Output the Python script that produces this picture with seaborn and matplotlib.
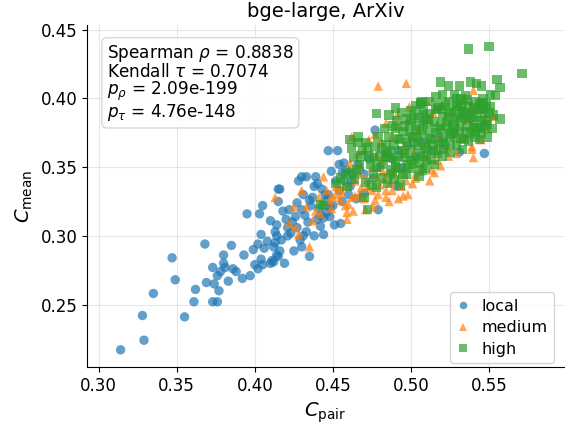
import matplotlib
matplotlib.use("Agg")
import matplotlib.pyplot as plt
import seaborn as sns
import pandas as pd

# ---- data ----
local_x = [0.314,0.329,0.328,0.335,0.355,0.361,0.362,0.349,0.347,0.368,0.369,0.373,0.376,0.377,0.374,
           0.373,0.376,0.378,0.380,0.380,0.381,0.383,0.385,0.386,0.388,0.392,0.393,0.395,0.397,0.399,
           0.400,0.402,0.402,0.403,0.404,0.404,0.405,0.405,0.406,0.410,0.410,0.412,0.412,0.413,0.413,
           0.414,0.414,0.415,0.415,
           0.414,0.416,0.420,0.421,0.419,0.415,0.416,0.411,0.422,0.426,0.427,0.428,0.430,0.430,0.429,
           0.430,0.431,0.433,0.433,0.435,0.435,0.437,0.438,0.439,0.440,0.441,0.442,0.443,0.444,0.445,
           0.446,0.447,0.448,0.449,0.451,0.453,0.454,0.455,0.456,0.456,0.457,0.459,0.477,0.479,0.491,
           0.467,0.531,0.547,
           0.462,0.466,0.470,0.473,0.476,0.480,0.484,0.488,0.492,0.495,0.498,0.503,0.507,0.512,0.518,
           0.522,0.527,0.470,0.465,0.461,
           0.408,0.417,0.423,0.424,0.427,0.432,0.434,0.436,0.438,0.442,0.445,0.447,0.450,0.452,0.457,
           0.460,0.463,0.418,0.421,0.425,0.431,0.440,0.444,0.448,0.454]
local_y = [0.217,0.224,0.242,0.258,0.241,0.252,0.261,0.268,0.284,0.294,0.266,0.252,0.252,0.260,0.265,
           0.277,0.271,0.274,0.280,0.286,0.277,0.267,0.293,0.276,0.274,0.269,0.286,0.316,0.271,0.290,
           0.279,0.276,0.294,0.316,0.283,0.301,0.279,0.322,0.291,0.280,0.311,0.281,0.292,0.303,0.295,
           0.286,0.308,0.325,0.334,
           0.300,0.334,0.312,0.306,0.280,0.285,0.289,0.282,0.319,0.314,0.324,0.340,0.343,0.319,0.297,
           0.292,0.300,0.343,0.303,0.285,0.326,0.328,0.336,0.343,0.312,0.320,0.307,0.334,0.301,0.330,
           0.317,0.362,0.314,0.347,0.308,0.362,0.352,0.309,0.346,0.325,0.353,0.348,0.377,0.319,0.336,
           0.348,0.361,0.360,
           0.340,0.352,0.345,0.356,0.342,0.350,0.360,0.356,0.362,0.350,0.366,0.358,0.368,0.362,0.372,
           0.366,0.375,0.331,0.327,0.336,
           0.296,0.297,0.302,0.310,0.306,0.315,0.310,0.322,0.300,0.315,0.325,0.330,0.322,0.340,0.340,
           0.330,0.345,0.318,0.300,0.289,0.330,0.338,0.313,0.321,0.333]

medium_x = [0.413,0.426,0.422,0.425,0.430,0.435,0.439,0.444,0.449,0.452,0.454,0.455,0.458,0.459,0.459,
            0.461,0.462,0.464,0.466,0.468,0.471,0.472,0.477,0.477,0.478,0.481,0.484,0.484,0.484,0.485,
            0.487,0.495,0.462,0.466,0.483,
            0.540,0.534,0.539,0.548,0.553,0.549,0.538,0.542,0.534,0.532,0.539,0.512,0.518,0.527,
            0.539,0.519,0.513,0.506,0.479,0.497,
            0.488,0.492,0.496,0.500,0.502,0.505,0.508,0.510,0.514,0.516,0.520,0.524,0.526,0.530,0.490,
            0.493,0.497,0.500,0.503,0.475,0.478,0.481,0.470,0.473,0.468,0.464,0.457,0.452,0.448,0.446,
            0.441,0.437,0.433,0.428,0.470,0.475,0.480,0.488,0.492,0.501,0.507,0.512,0.515,0.540,0.545,
            0.520,0.532,0.510,0.499,0.491,
            0.442,0.450,0.456,0.460,0.463,0.467,0.472,0.476,0.479,0.482,0.486,0.489,0.494,0.498,0.503,
            0.509,0.517,0.523,0.529,0.535]
medium_y = [0.328,0.306,0.309,0.321,0.333,0.292,0.318,0.343,0.320,0.336,0.334,0.326,0.322,0.317,0.312,
            0.353,0.328,0.329,0.360,0.335,0.319,0.336,0.326,0.374,0.358,0.368,0.328,0.333,0.382,0.346,
            0.339,0.329,0.372,0.350,0.341,
            0.406,0.400,0.394,0.386,0.387,0.378,0.385,0.379,0.372,0.371,0.365,0.385,0.372,0.372,
            0.363,0.351,0.348,0.347,0.409,0.411,
            0.372,0.380,0.365,0.372,0.360,0.378,0.366,0.356,0.390,0.362,0.380,0.358,0.390,0.380,0.350,
            0.344,0.340,0.352,0.345,0.350,0.343,0.355,0.362,0.370,0.345,0.340,0.336,0.330,0.326,0.333,
            0.328,0.311,0.321,0.301,0.327,0.333,0.337,0.333,0.327,0.338,0.350,0.340,0.346,0.357,0.370,
            0.395,0.393,0.398,0.394,0.388,
            0.316,0.328,0.331,0.323,0.318,0.330,0.341,0.321,0.330,0.347,0.325,0.346,0.336,0.330,0.342,
            0.360,0.355,0.365,0.360,0.385]

high_x = [0.537,0.550,0.571,0.555,0.557,0.519,0.524,0.531,0.538,0.542,0.545,0.551,0.554,0.520,0.507,
          0.506,0.529,0.535,0.518,0.532,0.542,0.546,0.557,0.502,0.510,0.542,0.545,0.478,0.506,0.442,
          0.444,0.461,0.466,0.471,0.476,0.459,0.461,0.464,0.470,0.472,0.478,0.507,0.520,
          0.482,0.485,0.487,0.489,0.490,0.492,0.493,0.494,0.495,0.496,0.497,0.498,0.499,0.500,0.501,
          0.502,0.503,0.504,0.505,0.506,0.507,0.508,0.509,0.510,0.511,0.512,0.513,0.514,0.515,0.516,
          0.517,0.518,0.519,0.520,0.521,0.522,0.523,0.524,0.525,0.526,0.527,0.528,0.529,0.530,0.531,
          0.532,0.533,0.534,0.535,0.536,0.537,0.538,0.539,0.540,0.541,0.542,0.543,0.544,0.545,0.547,
          0.549,0.551,0.553,0.548,0.486,0.488,0.491,0.494,0.497,0.500,0.503,0.484,0.480,0.478,0.476,
          0.474,0.481,0.485,0.489,0.493,0.497,0.501,0.505,0.509,0.513,0.517,0.521,0.525,0.529,0.533,
          0.537,0.541,0.545,0.549,0.552,0.512,0.516,0.508,0.524,0.528,0.536,0.546,0.490,0.486,0.483,
          0.479,0.472,0.468,0.466,0.463,0.458,0.455,0.452,
          0.484,0.487,0.490,0.493,0.496,0.499,0.502,0.505,0.508,0.511,0.514,0.517,0.520,0.523,0.526,
          0.529,0.532,0.535,0.538,0.541,0.544,0.547,0.550,0.488,0.492,0.496,0.500,0.504,0.508,0.512,
          0.516,0.520,0.524,0.528,0.532,0.536,0.540,0.544,0.548,0.495,0.505,0.515,0.525,0.535,0.545,
          0.500,0.510,0.530,0.540,0.490,0.486,0.481,0.477,0.473,0.469,0.465,0.462,0.467,0.471,0.475]
high_y = [0.436,0.438,0.418,0.414,0.408,0.412,0.409,0.409,0.412,0.411,0.409,0.403,0.402,0.403,0.398,
          0.396,0.400,0.402,0.394,0.394,0.392,0.393,0.385,0.388,0.385,0.378,0.378,0.389,0.397,0.323,
          0.322,0.370,0.368,0.368,0.357,0.336,0.346,0.341,0.328,0.319,0.335,0.348,0.358,
          0.352,0.360,0.345,0.366,0.355,0.371,0.349,0.362,0.376,0.357,0.368,0.352,0.381,0.363,0.372,
          0.356,0.377,0.366,0.386,0.360,0.374,0.381,0.367,0.355,0.377,0.389,0.371,0.362,0.383,0.375,
          0.393,0.367,0.380,0.387,0.372,0.396,0.378,0.385,0.368,0.391,0.381,0.374,0.388,0.396,0.377,
          0.384,0.391,0.370,0.386,0.380,0.395,0.375,0.389,0.383,0.398,0.386,0.379,0.392,0.384,0.389,
          0.381,0.394,0.388,0.396,0.372,0.380,0.384,0.390,0.385,0.391,0.395,0.366,0.358,0.350,0.345,
          0.352,0.342,0.338,0.341,0.337,0.345,0.349,0.353,0.349,0.356,0.360,0.363,0.361,0.366,0.363,
          0.369,0.372,0.375,0.372,0.378,0.398,0.401,0.392,0.398,0.403,0.399,0.400,0.393,0.388,0.378,
          0.372,0.364,0.358,0.372,0.357,0.345,0.342,0.338,
          0.357,0.362,0.350,0.370,0.360,0.374,0.368,0.380,0.358,0.384,0.366,0.378,0.392,0.383,0.375,
          0.394,0.371,0.390,0.386,0.376,0.396,0.380,0.390,0.348,0.358,0.380,0.355,0.372,0.388,0.370,
          0.392,0.368,0.390,0.380,0.400,0.388,0.393,0.370,0.384,0.345,0.343,0.352,0.374,0.376,0.397,
          0.384,0.364,0.386,0.379,0.378,0.357,0.364,0.365,0.358,0.362,0.348,0.364,0.352,0.339,0.337]

categories = ["local", "medium", "high"]
stats_text = ("Spearman $\\rho$ = 0.8838\n"
              "Kendall $\\tau$ = 0.7074\n"
              "$p_\\rho$ = 2.09e-199\n"
              "$p_\\tau$ = 4.76e-148")

df = pd.concat([
    pd.DataFrame({"x": local_x, "y": local_y, "cat": "local"}),
    pd.DataFrame({"x": medium_x, "y": medium_y, "cat": "medium"}),
    pd.DataFrame({"x": high_x, "y": high_y, "cat": "high"}),
], ignore_index=True)

fig = plt.figure(figsize=(5.68, 4.28), dpi=100)
ax = fig.add_axes([87/568, 1 - 367/428, (564-87)/568, (367-25)/428])

palette = {"local": "#1f77b4", "medium": "#ff7f0e", "high": "#2ca02c"}
markers = {"local": "o", "medium": "^", "high": "s"}
sns.scatterplot(data=df, x="x", y="y", hue="cat", style="cat",
                hue_order=categories, style_order=categories,
                palette=palette, markers=markers, s=46, alpha=0.7,
                linewidth=0, ax=ax, zorder=3)

ax.set_xlim(0.2925, 0.598)
ax.set_ylim(0.2045, 0.4535)
ax.set_xticks([0.30, 0.35, 0.40, 0.45, 0.50, 0.55])
ax.set_yticks([0.25, 0.30, 0.35, 0.40, 0.45])
ax.tick_params(labelsize=12)
ax.grid(True, alpha=0.3, zorder=0)
ax.set_axisbelow(True)
for s in ["top", "right"]:
    ax.spines[s].set_visible(False)

ax.set_xlabel(r"$C_{\mathrm{pair}}$", fontsize=14)
ax.set_ylabel(r"$C_{\mathrm{mean}}$", fontsize=14)
ax.set_title("bge-large, ArXiv", fontsize=14)

ax.text(0.042, 0.948, stats_text, transform=ax.transAxes, va="top", ha="left",
        fontsize=12.2, linespacing=0.93,
        bbox=dict(boxstyle="round,pad=0.3", fc="white", ec="lightgray", alpha=0.9), zorder=5)

leg = ax.legend(loc="lower right", bbox_to_anchor=(0.98, 0.012), borderaxespad=0,
                fontsize=11.5, title=None, framealpha=0.8, markerscale=0.8,
                labelspacing=0.4, handlelength=0.8, handletextpad=0.8)

fig.savefig("out.png", dpi=100)
